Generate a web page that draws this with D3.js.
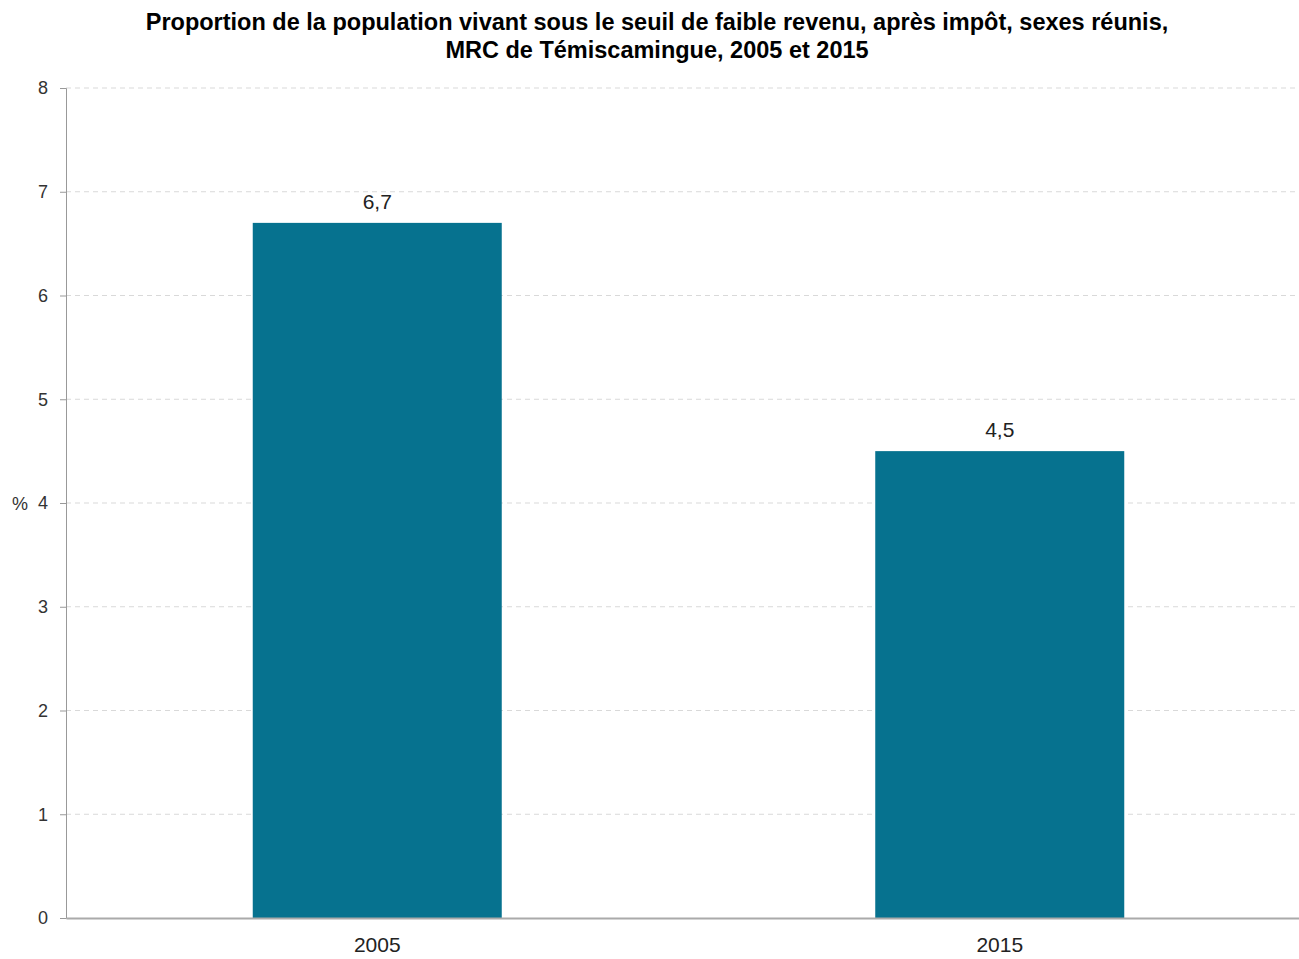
<!DOCTYPE html>
<html>
<head>
<meta charset="utf-8">
<script src="https://cdn.jsdelivr.net/npm/d3@7"></script>
<style>
  body { margin: 0; background: #fff; }
  svg { display: block; font-family: "Liberation Sans", Arial, sans-serif; }
</style>
</head>
<body>
<svg id="chart" width="1299" height="959"></svg>
<script>
var titleLines = [
  "Proportion de la population vivant sous le seuil de faible revenu, après impôt, sexes réunis,",
  "MRC de Témiscamingue, 2005 et 2015"
];
var years = ["2005", "2015"];
var values = [6.7, 4.5];
var yTicks = [0, 1, 2, 3, 4, 5, 6, 7, 8];

var svg = d3.select("#chart"),
    w = 1299,
    margin = { left: 66, top: 88, bottom: 41 },
    h = 959;

var x = d3.scaleBand().domain(years).range([margin.left, 1311]).paddingInner(0.6).paddingOuter(0.3);
var y = d3.scaleLinear().domain([0, 8]).range([h - margin.bottom, margin.top]);

// Title
svg.append("g").selectAll("text").data(titleLines).enter().append("text")
  .attr("x", 657)
  .attr("y", function(d, i) { return 30 + i * 28; })
  .attr("text-anchor", "middle")
  .attr("font-size", "23.5px")
  .attr("font-weight", "bold")
  .attr("fill", "#000")
  .text(function(d) { return d; });

// Grid lines
svg.append("g").selectAll("line").data(yTicks.slice(1)).enter().append("line")
  .attr("x1", margin.left).attr("x2", w)
  .attr("y1", function(d) { return y(d); })
  .attr("y2", function(d) { return y(d); })
  .attr("stroke", "#d9d9d9")
  .attr("stroke-width", 1)
  .attr("stroke-dasharray", "5,4");

// Bars
svg.append("g").selectAll("rect").data(values).enter().append("rect")
  .attr("x", function(d, i) { return x(years[i]); })
  .attr("y", function(d) { return y(d); })
  .attr("width", x.bandwidth())
  .attr("height", function(d) { return y(0) - y(d); })
  .attr("fill", "#06728f");

// Value labels
svg.append("g").selectAll("text").data(values).enter().append("text")
  .attr("x", function(d, i) { return x(years[i]) + x.bandwidth() / 2; })
  .attr("y", function(d) { return y(d) - 14; })
  .attr("text-anchor", "middle")
  .attr("font-size", "21px")
  .attr("fill", "#222")
  .text(function(d) { return d3.format(".1f")(d).replace(".", ","); });

// Y axis
var yAxis = d3.axisLeft(y).tickValues(yTicks).tickSize(6).tickPadding(12).tickFormat(d3.format("d"));
var gy = svg.append("g").attr("transform", "translate(" + margin.left + ",0)").call(yAxis);
gy.select(".domain").attr("stroke", "#999");
gy.selectAll(".tick line").attr("stroke", "#999");
gy.selectAll(".tick text").attr("font-size", "18px").attr("fill", "#333")
  .attr("font-family", "Liberation Sans, Arial, sans-serif");

// X axis
var xAxis = d3.axisBottom(x).tickSize(0).tickPadding(19);
var gx = svg.append("g").attr("transform", "translate(0," + y(0) + ")").call(xAxis);
gx.select(".domain").attr("stroke", "#aaa").attr("stroke-width", 2);
gx.selectAll(".tick text").attr("font-size", "21px").attr("fill", "#222")
  .attr("font-family", "Liberation Sans, Arial, sans-serif");

// Y axis unit label
svg.append("text")
  .attr("x", 12)
  .attr("y", y(4) + 7)
  .attr("font-size", "18px")
  .attr("fill", "#333")
  .text("%");
</script>
</body>
</html>
